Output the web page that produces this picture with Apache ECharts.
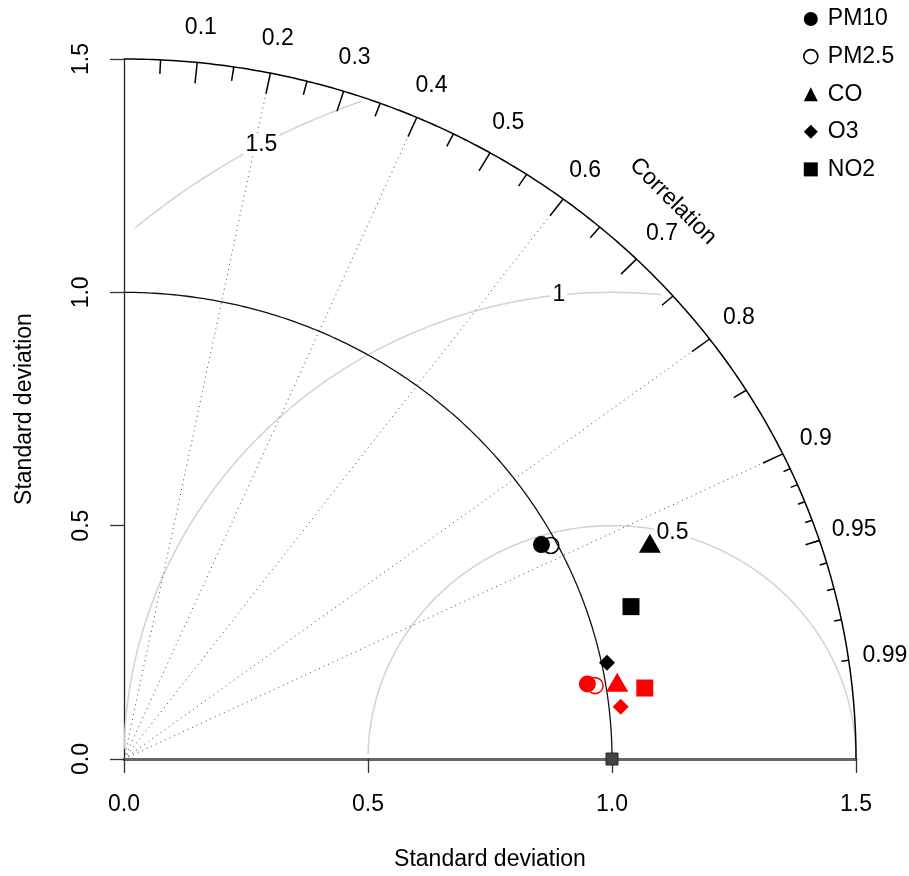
<!DOCTYPE html>
<html><head><meta charset="utf-8">
<script src="https://cdn.jsdelivr.net/npm/echarts@6/dist/echarts.min.js"></script>
<style>html,body{margin:0;padding:0;background:#fff}#c{width:909px;height:876px}</style>
</head><body><div id="c"></div>
<script>
// ---- data (standard deviation, correlation) ----
const pollutants = ['PM10', 'PM2.5', 'CO', 'O3', 'NO2'];
const sdBlack  = [0.971, 0.987, 1.170, 1.011, 1.089];
const corBlack = [0.881, 0.886, 0.921, 0.979, 0.954];
const sdRed    = [0.963, 0.978, 1.023, 1.024, 1.078];
const corRed   = [0.986, 0.987, 0.988, 0.994, 0.990];
const refSd = 1.0;
const maxSd = 1.5;
const sdTicks = [0, 0.5, 1.0, 1.5];
const sdTickLabels = ['0.0', '0.5', '1.0', '1.5'];
const corMajor = [0.1, 0.2, 0.3, 0.4, 0.5, 0.6, 0.7, 0.8, 0.9];
const corMedium = [0.05, 0.15, 0.25, 0.35, 0.45, 0.55, 0.65, 0.75, 0.85, 0.95];
const corMinor = [0.91, 0.92, 0.93, 0.94, 0.95, 0.96, 0.97, 0.98, 0.99];
const corLabels = [0.1, 0.2, 0.3, 0.4, 0.5, 0.6, 0.7, 0.8, 0.9, 0.95, 0.99];
const corGrid = [0.2, 0.4, 0.6, 0.8, 0.9];
const rmsLevels = [0.5, 1, 1.5];
const rmsLabelPos = [[1.124, 0.484], [0.891, 0.994], [0.2815, 1.317]];

const FONT = 'Liberation Sans, Arial, sans-serif';
const FS = 23;

function polar(sd, cor) { return [sd * cor, sd * Math.sqrt(Math.max(0, 1 - cor * cor))]; }
function arc(cx, r, a0, a1, n) {
  const pts = [];
  for (let i = 0; i <= n; i++) {
    const a = a0 + (a1 - a0) * i / n;
    pts.push([cx + r * Math.cos(a), r * Math.sin(a)]);
  }
  return pts;
}
// RMS arcs clipped as in plotrix taylor.diagram
function rmsArc(g) {
  const angs = [];
  for (let a = 0; a <= Math.PI; a += 0.03) angs.push(a);
  const xs = angs.map(a => Math.cos(a) * g + refSd);
  const ys = angs.map(a => Math.sin(a) * g);
  let end = xs.findIndex(x => x < 0);
  end = end >= 0 ? end - 1 : angs.length - 1;
  let start = -1;
  xs.forEach((x, i) => { if (x * x + ys[i] * ys[i] > maxSd * maxSd + 1e-9) start = i; });
  start = start >= 0 ? start + 1 : 0;
  return arc(refSd, g, angs[start], angs[end], 200);
}

const tickSeg = (list, frac) => list.map(c => ({ coords: [polar(maxSd, c), polar(maxSd * frac, c)] }));

const series = [];
// outer sd arc
series.push({ type: 'line', data: arc(0, maxSd, 0, Math.PI / 2, 240), showSymbol: false, symbol: 'none', clip: false,
  lineStyle: { color: '#000', width: 1.5 }, silent: true, z: 3 });
// reference sd arc
series.push({ type: 'line', data: arc(0, refSd, 0, Math.PI / 2, 200), showSymbol: false, symbol: 'none',
  lineStyle: { color: '#111', width: 1.3 }, silent: true, z: 3 });
// rms arcs
rmsLevels.forEach(g => series.push({ type: 'line', data: rmsArc(g), showSymbol: false, symbol: 'none',
  lineStyle: { color: '#d2d2d2', width: 1.5 }, silent: true, z: 1 }));
// correlation rays
series.push({ type: 'lines', coordinateSystem: 'cartesian2d', silent: true, z: 2,
  data: corGrid.map(c => ({ coords: [[0, 0], polar(maxSd * 0.97, c)] })),
  lineStyle: { color: '#444', width: 1, opacity: 1, type: [1, 4] } });
// ticks
series.push({ type: 'lines', coordinateSystem: 'cartesian2d', silent: true, z: 3,
  data: tickSeg(corMajor, 0.97).concat(tickSeg(corMedium, 0.98)).concat(tickSeg(corMinor, 0.99)),
  lineStyle: { color: '#000', width: 1.5, opacity: 1 } });
// correlation labels
series.push({ type: 'scatter', silent: true, clip: false, symbolSize: 1, itemStyle: { color: 'rgba(0,0,0,0)', opacity: 1 },
  data: corLabels.map(c => ({ name: String(c), value: polar(maxSd * 1.05, c) })),
  label: { show: true, position: 'inside', formatter: '{b}', color: '#000', fontSize: FS, fontFamily: FONT } });
// rms labels
series.push({ type: 'scatter', silent: true, clip: false, symbolSize: 1, itemStyle: { color: 'rgba(0,0,0,0)', opacity: 1 }, z: 4,
  data: rmsLevels.map((g, i) => ({ name: String(g), value: rmsLabelPos[i] })),
  label: { show: true, position: 'inside', formatter: '{b}', color: '#000', fontSize: FS, fontFamily: FONT,
    backgroundColor: '#fff', padding: [0, 2] } });
// "Correlation" title
series.push({ type: 'scatter', silent: true, clip: false, symbolSize: 1, itemStyle: { color: 'rgba(0,0,0,0)', opacity: 1 },
  data: [{ name: 'Correlation', value: [1.125, 1.195] }],
  label: { show: true, position: 'inside', formatter: '{b}', rotate: -45, color: '#000', fontSize: FS, fontFamily: FONT } });
// reference point
series.push({ type: 'scatter', silent: true, clip: false, symbol: 'rect', symbolSize: 12, z: 6,
  data: [[refSd, 0]], itemStyle: { color: '#444', borderColor: '#222', borderWidth: 1, opacity: 1 } });

// model points
const styles = {
  'PM10':  { symbol: 'circle', size: 17, fill: true },
  'PM2.5': { symbol: 'circle', size: 16, fill: false },
  'CO':    { symbol: 'triangle', size: [22, 19], fill: true, offset: [0, -3] },
  'O3':    { symbol: 'diamond', size: 16, fill: true },
  'NO2':   { symbol: 'rect', size: 17, fill: true }
};
function itemStyleFor(st, col) {
  return st.fill ? { color: col, opacity: 1 } : { color: 'rgba(0,0,0,0)', borderColor: col, borderWidth: 1.6, opacity: 1 };
}
pollutants.forEach((p, i) => {
  const st = styles[p];
  series.push({ type: 'scatter', name: p, symbol: st.symbol, symbolSize: st.size, symbolOffset: st.offset || [0, 0],
    z: 5, clip: false, itemStyle: itemStyleFor(st, '#000'),
    data: [
      { value: polar(sdBlack[i], corBlack[i]), itemStyle: itemStyleFor(st, '#000') },
      { value: polar(sdRed[i], corRed[i]), itemStyle: itemStyleFor(st, '#ff0000') }
    ] });
});

const chart = echarts.init(document.getElementById('c'), null, { renderer: 'canvas' });
chart.setOption({
  animation: false,
  backgroundColor: '#fff',
  grid: { left: 124, top: 59, width: 732, height: 702 },
  xAxis: {
    type: 'value', min: 0, max: maxSd, interval: 0.5,
    name: 'Standard deviation', nameLocation: 'middle', nameGap: 89,
    nameTextStyle: { fontSize: FS, fontFamily: FONT, color: '#000' },
    axisLine: { show: true, onZero: false, lineStyle: { color: '#666', width: 3 } },
    axisTick: { show: true, length: 14, lineStyle: { color: '#333', width: 1.3 } },
    axisLabel: { margin: 34, fontSize: FS, fontFamily: FONT, color: '#000',
      formatter: v => sdTickLabels[sdTicks.indexOf(v)] },
    splitLine: { show: false }
  },
  yAxis: {
    type: 'value', min: 0, max: maxSd, interval: 0.5,
    name: 'Standard deviation', nameLocation: 'middle', nameGap: 88, nameRotate: 90,
    nameTextStyle: { fontSize: FS, fontFamily: FONT, color: '#000' },
    axisLine: { show: true, onZero: false, lineStyle: { color: '#222', width: 1.3 } },
    axisTick: { show: true, length: 14, lineStyle: { color: '#333', width: 1.3 } },
    axisLabel: { margin: 31, rotate: 90, fontSize: FS, fontFamily: FONT, color: '#000',
      formatter: v => sdTickLabels[sdTicks.indexOf(v)] },
    splitLine: { show: false }
  },
  legend: {
    orient: 'vertical', left: 798, top: 2, itemWidth: 14, itemHeight: 14, itemGap: 13.6,
    textStyle: { fontSize: FS, fontFamily: FONT, color: '#000', lineHeight: 24, padding: [0, 0, 0, 5] },
    data: pollutants.map(p => {
      const st = styles[p];
      return { name: p, icon: st.symbol, itemStyle: itemStyleFor(st, '#000') };
    })
  },
  series: series
});
</script>
</body></html>
